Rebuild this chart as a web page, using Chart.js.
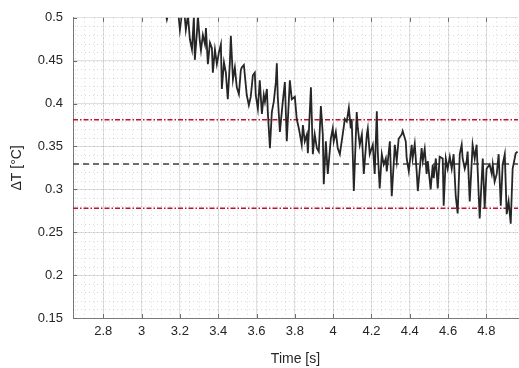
<!DOCTYPE html>
<html>
<head>
<meta charset="utf-8">
<script src="https://cdn.jsdelivr.net/npm/chart.js@4.4.0/dist/chart.umd.min.js"></script>
<style>
    html, body { margin: 0; padding: 0; background: #fff; }
    #wrap { width: 519px; height: 368px; }
</style>
</head>
<body>
<div id="wrap"><canvas id="tempChart" width="519" height="368"></canvas></div>
<script>
const TIME = [
    3.044, 3.070, 3.096, 3.117, 3.132, 3.148, 3.169, 3.190, 3.200, 3.211,
    3.221, 3.231, 3.242, 3.252, 3.263, 3.273, 3.278, 3.289, 3.294, 3.304,
    3.310, 3.320, 3.331, 3.336, 3.346, 3.357, 3.367, 3.372, 3.383, 3.393,
    3.404, 3.414, 3.419, 3.430, 3.440, 3.450, 3.461, 3.466, 3.477, 3.487,
    3.497, 3.508, 3.518, 3.523, 3.534, 3.549, 3.560, 3.570, 3.581, 3.591,
    3.596, 3.607, 3.617, 3.628, 3.638, 3.644, 3.654, 3.659, 3.670, 3.680,
    3.690, 3.701, 3.706, 3.711, 3.722, 3.737, 3.748, 3.758, 3.774, 3.784,
    3.800, 3.810, 3.821, 3.836, 3.842, 3.852, 3.863, 3.868, 3.884, 3.894,
    3.904, 3.915, 3.925, 3.936, 3.946, 3.951, 3.962, 3.972, 3.988, 3.998,
    4.003, 4.014, 4.024, 4.035, 4.050, 4.061, 4.071, 4.082, 4.092, 4.097,
    4.108, 4.123, 4.129, 4.139, 4.150, 4.160, 4.176, 4.181, 4.191, 4.207,
    4.217, 4.228, 4.233, 4.243, 4.254, 4.264, 4.275, 4.280, 4.296, 4.306,
    4.322, 4.332, 4.342, 4.358, 4.363, 4.379, 4.384, 4.395, 4.410, 4.415,
    4.426, 4.436, 4.442, 4.462, 4.468, 4.478, 4.488, 4.494, 4.509, 4.520,
    4.525, 4.536, 4.546, 4.556, 4.572, 4.577, 4.588, 4.598, 4.609, 4.619,
    4.629, 4.640, 4.650, 4.661, 4.671, 4.676, 4.687, 4.697, 4.702, 4.713,
    4.728, 4.739, 4.749, 4.765, 4.781, 4.791, 4.801, 4.817, 4.828, 4.833,
    4.843, 4.854, 4.864, 4.875, 4.885, 4.896, 4.906, 4.916, 4.927, 4.937,
    4.953, 4.963
];
const DELTA_T = [
    0.512, 0.517, 0.508, 0.514, 0.498, 0.513, 0.517, 0.510, 0.486, 0.506,
    0.513, 0.486, 0.503, 0.475, 0.463, 0.501, 0.451, 0.483, 0.502, 0.473,
    0.462, 0.480, 0.469, 0.488, 0.446, 0.471, 0.465, 0.436, 0.463, 0.446,
    0.460, 0.469, 0.417, 0.448, 0.436, 0.405, 0.448, 0.479, 0.428, 0.442,
    0.419, 0.411, 0.439, 0.442, 0.445, 0.410, 0.398, 0.408, 0.433, 0.436,
    0.410, 0.394, 0.427, 0.388, 0.410, 0.402, 0.417, 0.390, 0.348, 0.390,
    0.402, 0.425, 0.447, 0.408, 0.367, 0.402, 0.425, 0.356, 0.427, 0.405,
    0.408, 0.382, 0.371, 0.352, 0.375, 0.356, 0.364, 0.342, 0.419, 0.341,
    0.364, 0.348, 0.344, 0.397, 0.364, 0.306, 0.356, 0.318, 0.359, 0.371,
    0.356, 0.367, 0.348, 0.341, 0.364, 0.382, 0.379, 0.395, 0.371, 0.382,
    0.298, 0.390, 0.371, 0.352, 0.364, 0.318, 0.364, 0.371, 0.341, 0.352,
    0.318, 0.391, 0.344, 0.301, 0.341, 0.329, 0.336, 0.321, 0.356, 0.292,
    0.352, 0.333, 0.359, 0.364, 0.368, 0.356, 0.336, 0.321, 0.352, 0.336,
    0.353, 0.321, 0.298, 0.348, 0.333, 0.347, 0.318, 0.333, 0.300, 0.329,
    0.313, 0.336, 0.301, 0.338, 0.336, 0.281, 0.336, 0.324, 0.338, 0.324,
    0.341, 0.292, 0.272, 0.341, 0.352, 0.336, 0.324, 0.333, 0.344, 0.286,
    0.352, 0.336, 0.352, 0.266, 0.336, 0.278, 0.324, 0.329, 0.318, 0.329,
    0.309, 0.318, 0.341, 0.281, 0.329, 0.341, 0.271, 0.286, 0.260, 0.324,
    0.342, 0.344
];

// mean and band limits
const LIMIT_UPPER = 0.381;
const LIMIT_MEAN = 0.3295;
const LIMIT_LOWER = 0.278;

const X_RANGE = [2.642, 4.965];
const Y_RANGE = [0.15, 0.5];
const X_TICKS = [2.8, 3, 3.2, 3.4, 3.6, 3.8, 4, 4.2, 4.4, 4.6, 4.8];
const Y_TICKS = [0.15, 0.2, 0.25, 0.3, 0.35, 0.4, 0.45, 0.5];
const X_MINOR_STEP = 0.05;
const Y_MINOR_STEP = 0.01;

const TEXT = "#262626";
const FONT = "'Liberation Sans', Arial, sans-serif";

const hLine = (value) => [
    { x: X_RANGE[0], y: value },
    { x: X_RANGE[1], y: value }
];

// dotted minor grid + inward tick marks, matlab style
const axesDecor = {
    id: "axesDecor",
    beforeDatasetsDraw(chart) {
        const { ctx, chartArea: a, scales: { x, y } } = chart;
        ctx.save();
        ctx.strokeStyle = "rgba(0,0,0,0.14)";
        ctx.lineWidth = 1;
        ctx.setLineDash([1, 3]);
        for (let v = Math.ceil(X_RANGE[0] / X_MINOR_STEP) * X_MINOR_STEP; v < X_RANGE[1]; v += X_MINOR_STEP) {
            const px = Math.round(x.getPixelForValue(v)) + 0.5;
            ctx.beginPath();
            ctx.moveTo(px, a.top);
            ctx.lineTo(px, a.bottom);
            ctx.stroke();
        }
        for (let v = Y_RANGE[0] + Y_MINOR_STEP; v < Y_RANGE[1] - 1e-6; v += Y_MINOR_STEP) {
            const py = Math.round(y.getPixelForValue(v)) + 0.5;
            ctx.beginPath();
            ctx.moveTo(a.left, py);
            ctx.lineTo(a.right, py);
            ctx.stroke();
        }
        ctx.restore();
    },
    afterDatasetsDraw(chart) {
        const { ctx, chartArea: a, scales: { x, y } } = chart;
        ctx.save();
        ctx.strokeStyle = "#6e6e6e";
        ctx.lineWidth = 1;
        X_TICKS.forEach(v => {
            const px = Math.round(x.getPixelForValue(v)) + 0.5;
            ctx.beginPath();
            ctx.moveTo(px, a.bottom);
            ctx.lineTo(px, a.bottom - 4);
            ctx.moveTo(px, a.top);
            ctx.lineTo(px, a.top + 4);
            ctx.stroke();
        });
        Y_TICKS.forEach(v => {
            const py = Math.round(y.getPixelForValue(v)) + 0.5;
            ctx.beginPath();
            ctx.moveTo(a.left, py);
            ctx.lineTo(a.left + 4, py);
            ctx.stroke();
        });
        ctx.restore();
    }
};

document.addEventListener("DOMContentLoaded", () => {
    const ctx = document.getElementById("tempChart");
    new Chart(ctx, {
        type: "line",
        data: {
            datasets: [
                {
                    label: "\u0394T",
                    data: TIME.map((t, i) => ({ x: t, y: DELTA_T[i] })),
                    borderColor: "#262626",
                    borderWidth: 1.8,
                    pointRadius: 0,
                    tension: 0,
                    order: 1
                },
                {
                    label: "upper",
                    data: hLine(LIMIT_UPPER),
                    borderColor: "#c0102e",
                    borderWidth: 1.5,
                    borderDash: [5, 2, 1.5, 2],
                    pointRadius: 0,
                    order: 2
                },
                {
                    label: "mean",
                    data: hLine(LIMIT_MEAN),
                    borderColor: "#404040",
                    borderWidth: 1.4,
                    borderDash: [6, 4],
                    pointRadius: 0,
                    order: 2
                },
                {
                    label: "lower",
                    data: hLine(LIMIT_LOWER),
                    borderColor: "#c0102e",
                    borderWidth: 1.5,
                    borderDash: [5, 2, 1.5, 2],
                    pointRadius: 0,
                    order: 2
                }
            ]
        },
        options: {
            responsive: false,
            animation: false,
            layout: { padding: { top: 15, right: 1, bottom: 0, left: 0 } },
            plugins: {
                legend: { display: false },
                tooltip: { enabled: false }
            },
            scales: {
                x: {
                    type: "linear",
                    min: X_RANGE[0],
                    max: X_RANGE[1],
                    afterBuildTicks: (s) => { s.ticks = X_TICKS.map(v => ({ value: v })); },
                    afterFit: (s) => { s.height = 50; },
                    grid: { color: "rgba(0,0,0,0.12)", drawTicks: false },
                    border: { color: "#7a7a7a" },
                    ticks: {
                        autoSkip: false,
                        maxRotation: 0,
                        padding: 6,
                        color: TEXT,
                        font: { family: FONT, size: 13 },
                        callback: (v) => String(v)
                    },
                    title: {
                        display: true,
                        text: "Time [s]",
                        color: TEXT,
                        font: { family: FONT, size: 14 },
                        padding: { top: 4, bottom: 0 }
                    }
                },
                y: {
                    min: Y_RANGE[0],
                    max: Y_RANGE[1],
                    afterBuildTicks: (s) => { s.ticks = Y_TICKS.map(v => ({ value: v })); },
                    afterFit: (s) => { s.width = 73; },
                    grid: { color: "rgba(0,0,0,0.12)", drawTicks: false },
                    border: { color: "#7a7a7a" },
                    ticks: {
                        padding: 10,
                        color: TEXT,
                        font: { family: FONT, size: 13 },
                        callback: (v) => String(v)
                    },
                    title: {
                        display: true,
                        text: "\u0394T [\u00B0C]",
                        color: TEXT,
                        font: { family: FONT, size: 14 },
                        padding: { top: 9, bottom: 0 }
                    }
                }
            }
        },
        plugins: [axesDecor]
    });
});
</script>
</body>
</html>
